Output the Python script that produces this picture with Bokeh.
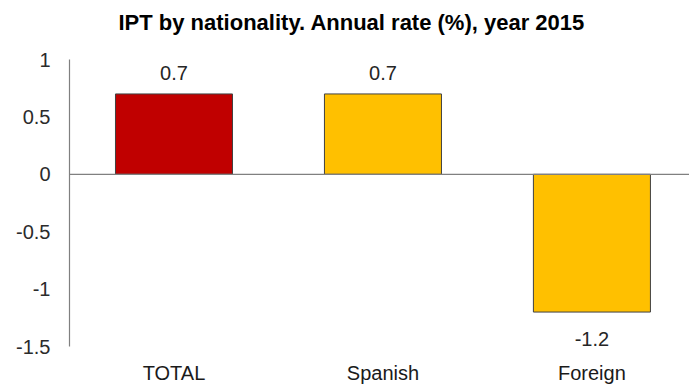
import numpy as np
from bokeh.plotting import figure
from bokeh.layouts import column
from bokeh.models import (ColumnDataSource, Range1d, FixedTicker, NumeralTickFormatter,
                          Span, LabelSet, Label)
from bokeh.core.properties import value
from bokeh.embed import file_html
from bokeh.resources import INLINE

# ---- data ----
categories = ["TOTAL", "Spanish", "Foreign"]
rates = [0.7, 0.7, -1.2]
colors = ["#C00000", "#FFC000", "#FFC000"]
y_ticks = [-1.5, -1.0, -0.5, 0.0, 0.5, 1.0]
title_text = "IPT by nationality. Annual rate (%), year 2015"

FONT = "Liberation Sans"
W, H, TITLE_H = 689, 387, 44
FRAME_LEFT = 69
FRAME_W = W - FRAME_LEFT

# ---- title strip (its own small svg figure; its frame aligns with the chart frame) ----
tf = figure(width=W, height=TITLE_H, output_backend="svg", toolbar_location=None,
            x_range=Range1d(0, FRAME_W), y_range=Range1d(0, TITLE_H),
            x_axis_location=None, y_axis_location=None,
            min_border_left=0, min_border_right=0, min_border_top=0,
            min_border_bottom=0, title=None)
tf.grid.visible = False
tf.outline_line_color = None
tf.border_fill_color = "white"
tf.background_fill_color = "white"
tf.add_layout(Label(x=49, y=TITLE_H - 22, text=title_text,
                    text_align="left", text_baseline="middle",
                    text_font=FONT, text_font_size="22px",
                    text_font_style="bold", text_color="#000000"))

# ---- main chart ----
xs = list(range(len(categories)))
src = ColumnDataSource(dict(
    x=xs,
    rate=rates,
    color=colors,
    label=[f"{v:.1f}" for v in rates],
    yoff=[21 if v >= 0 else -27 for v in rates],
))

p = figure(width=W, height=H - TITLE_H, output_backend="svg", toolbar_location=None,
           x_range=Range1d(-0.5, 2.467), y_range=Range1d(-1.5, 1.0),
           min_border_left=FRAME_LEFT, min_border_right=0, min_border_top=59 - TITLE_H,
           min_border_bottom=41, title=None)
p.outline_line_color = None
p.background_fill_color = "white"
p.border_fill_color = "white"
p.xgrid.visible = False
p.ygrid.visible = False

p.vbar(x="x", top="rate", bottom=0, width=0.56, source=src,
       fill_color="color", line_color="#404040", line_width=1)

p.add_layout(Span(location=0, dimension="width", line_color="#808080", line_width=1.2))

labels = LabelSet(x="x", y="rate", text="label", y_offset="yoff", source=src,
                  text_align="center", text_baseline="middle",
                  text_font=value(FONT), text_font_size=value("20px"),
                  text_color="#262626")
p.add_layout(labels)

# y axis
p.yaxis.ticker = FixedTicker(ticks=y_ticks)
p.yaxis.formatter = NumeralTickFormatter(format="0.[0]")
p.yaxis.axis_line_color = "#808080"
p.yaxis.axis_line_width = 1.2
p.yaxis.major_tick_line_color = None
p.yaxis.minor_tick_line_color = None
p.yaxis.major_tick_out = 0
p.yaxis.major_tick_in = 0
p.yaxis.minor_tick_out = 0
p.yaxis.major_label_standoff = 19
p.yaxis.major_label_text_font = FONT
p.yaxis.major_label_text_font_size = "20px"
p.yaxis.major_label_text_color = "#2b2b2b"

# x axis
p.xaxis.ticker = FixedTicker(ticks=xs)
p.xaxis.major_label_overrides = {i: c for i, c in zip(xs, categories)}
p.xaxis.axis_line_color = None
p.xaxis.major_tick_line_color = None
p.xaxis.minor_tick_line_color = None
p.xaxis.major_tick_out = 0
p.xaxis.major_tick_in = 0
p.xaxis.minor_tick_out = 0
p.xaxis.major_label_standoff = 15
p.xaxis.major_label_text_font = FONT
p.xaxis.major_label_text_font_size = "20px"
p.xaxis.major_label_text_color = "#1a1a1a"

layout = column(tf, p, spacing=0)
open("out.html", "w").write(file_html(layout, INLINE))
